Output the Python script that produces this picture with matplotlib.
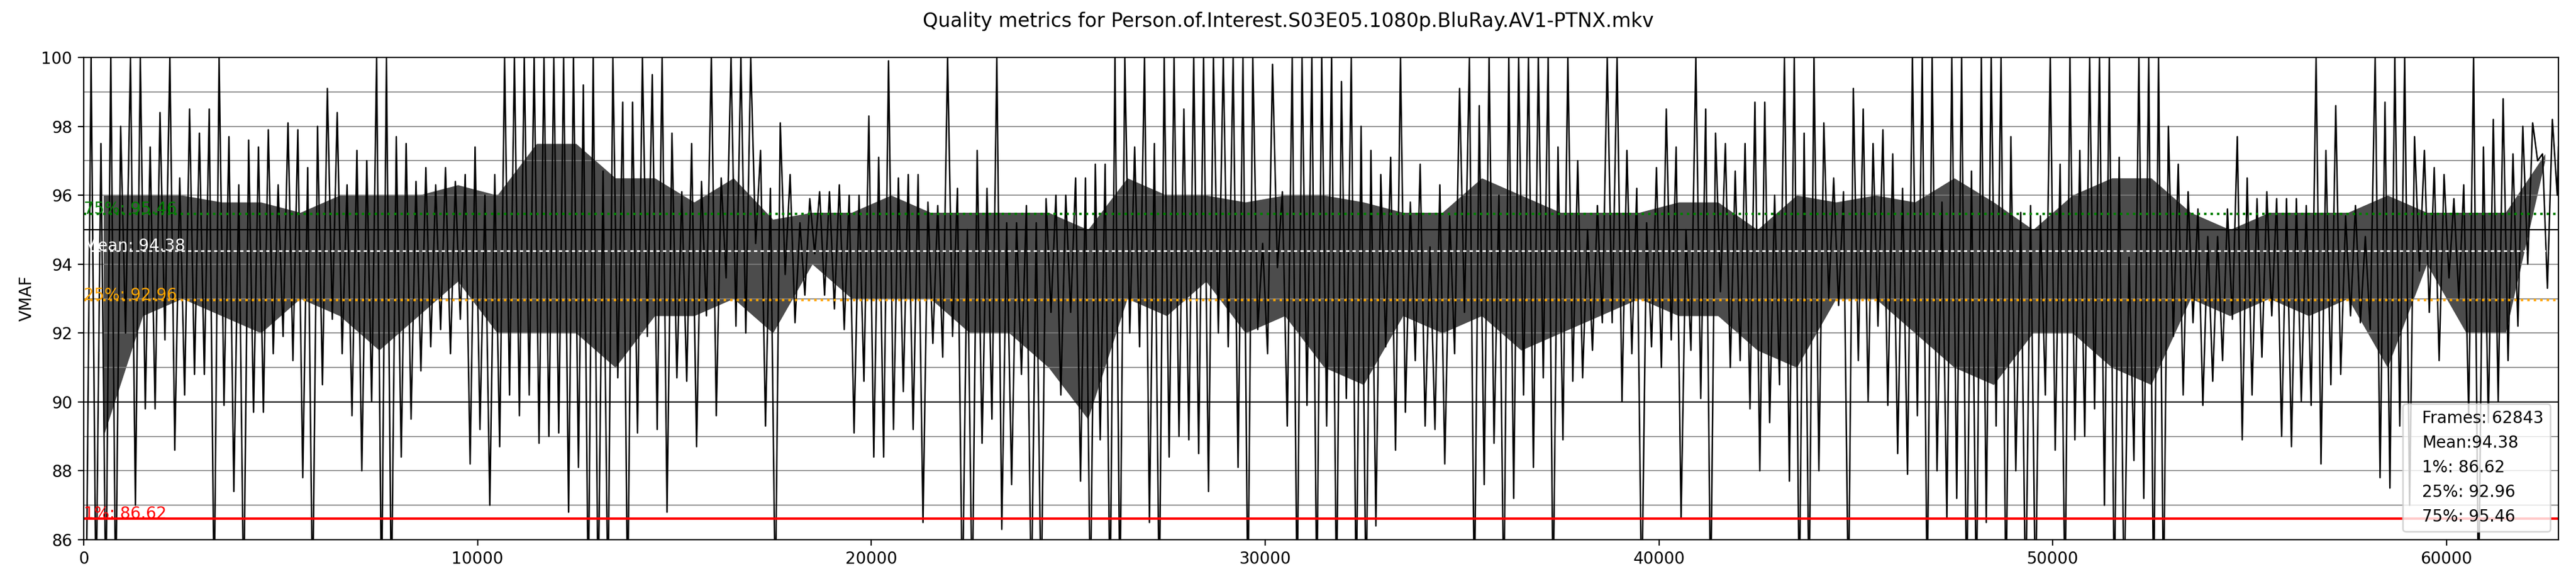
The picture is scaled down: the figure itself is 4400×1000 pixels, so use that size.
import numpy as np
import matplotlib.pyplot as plt

title = "Quality metrics for Person.of.Interest.S03E05.1080p.BluRay.AV1-PTNX.mkv"
frames = 62843
bin_size = 250    # frames per low/high bin
core_size = 1000  # frames per dense-band bin

mean_vmaf = 94.38
p1_vmaf = 86.62
p25_vmaf = 92.96
p75_vmaf = 95.46

# lowest / highest VMAF seen in each 250-frame bin (84 = runs off the bottom)
vmaf_low = [
    # 0 - 7000
    84, 84, 84, 84, 92, 87, 89.8, 89.8, 91.8, 88.6, 90.2, 90.8, 90.8, 84,
    89.9, 87.4, 84, 89.7, 89.7, 91.4, 91.9, 91.2, 87.8, 84, 90.5, 92.4, 91.4, 89.6,
    # 7000 - 14000
    88, 90, 84, 84, 88.4, 89.5, 90.9, 91.6, 92.1, 91.4, 92.4, 88.2, 89.2, 87,
    88.7, 90.2, 89.6, 90.2, 88.8, 89, 89.1, 86.8, 88.1, 84, 84, 84, 90.7, 84,
    # 14000 - 21000
    89.1, 91.9, 89.2, 86.8, 90.7, 90.6, 88.7, 92.5, 89.6, 93.6, 92.2, 92, 94.6, 89.3,
    84, 93.7, 92.3, 93.1, 94.3, 93.1, 92.7, 92.1, 89.1, 90.6, 88.4, 88.4, 89.2, 90.3,
    # 21000 - 28000
    89.2, 86.5, 91.7, 91.3, 91.9, 84, 84, 88.8, 89.5, 86.3, 87.6, 90.8, 84, 84,
    92.6, 90.2, 92.6, 87.7, 84, 88.9, 84, 84, 92, 91.6, 86.5, 84, 88.4, 89,
    # 28000 - 35000
    88.9, 88.5, 87.4, 92, 91.6, 88.1, 84, 92.1, 91.4, 93.9, 89.3, 84, 89.9, 84,
    89.3, 84, 90.1, 84, 84, 86.4, 91.6, 88.6, 89.7, 91.2, 89.3, 89.2, 88.2, 91.4,
    # 35000 - 42000
    92.6, 84, 87.6, 88.8, 84, 87.2, 90.2, 88.1, 90.7, 84, 88.9, 90.6, 90.7, 91.5,
    92.3, 92.3, 90, 91.4, 84, 91.6, 91, 91.8, 86.6, 91.5, 90.1, 84, 93.2, 91,
    # 42000 - 49000
    91.2, 89.8, 88, 89.4, 90.5, 87.7, 84, 84, 88, 93, 92.8, 84, 91.2, 90,
    92.2, 89.9, 88.5, 87.9, 89.6, 84, 88, 86.6, 87.2, 84, 84, 86.5, 89.3, 84,
    # 49000 - 56000
    88, 84, 84, 90.2, 88.6, 84, 88.9, 89, 89.8, 87, 84, 84, 88.3, 87.2,
    84, 84, 91.9, 90.2, 92.3, 89.9, 90.6, 91.2, 92.4, 88.9, 90.2, 91.3, 92.5, 89,
    # 56000 - 62843
    88.7, 90, 89.9, 88.2, 90.5, 90.8, 92.5, 92.3, 92.1, 87.8, 87.5, 89.3, 87, 93.8,
    92.6, 91.2, 93.6, 93, 89.6, 84, 89.4, 90, 91.2, 92.2, 94, 97.0, 93.3, 96,
]

vmaf_high = [
    # 0 - 7000
    100, 97.5, 100, 98, 100, 100, 97.4, 98.4, 100, 96.5, 98.5, 97.8, 98.5, 100,
    97.7, 96.3, 97.6, 97.4, 97.9, 96.3, 98.1, 97.9, 96.8, 98, 99.1, 98.4, 96.3, 97.3,
    # 7000 - 14000
    97, 100, 100, 97.7, 97.5, 96.4, 96.8, 96.3, 96.8, 96.4, 96.6, 97.4, 96, 96.6,
    100, 100, 100, 100, 100, 100, 100, 100, 99.2, 100, 96.7, 100, 98.7, 98.7,
    # 14000 - 21000
    100, 99.5, 100, 97.8, 96.1, 97.5, 96.4, 100, 96.5, 100, 100, 100, 97.3, 96.2,
    98.1, 96.6, 95.2, 95.9, 96.1, 96.1, 96.3, 96, 96, 98.3, 97.1, 99.9, 96.5, 96.6,
    # 21000 - 28000
    96.6, 95.8, 95.7, 100, 96.2, 95, 97.3, 96.2, 100, 95.2, 95.2, 95.7, 95.2, 95.9,
    96, 96, 96.5, 96.5, 96.9, 96.9, 100, 100, 97.4, 100, 97.5, 100, 100, 98.5,
    # 28000 - 35000
    100, 100, 100, 100, 100, 100, 100, 94.6, 99.8, 96.1, 100, 100, 100, 100,
    100, 99.3, 100, 98, 97.3, 96.6, 97.1, 100, 95.8, 96.9, 94.5, 96.3, 95.4, 99.1,
    # 35000 - 42000
    100, 98.6, 100, 96, 100, 100, 100, 100, 100, 97.4, 100, 97, 95, 95.7,
    100, 100, 97.3, 96.2, 95.2, 96.8, 98.5, 97.4, 95, 100, 98.5, 97.8, 97.5, 96.7,
    # 42000 - 49000
    97.5, 98.7, 98.7, 96, 100, 100, 97.8, 100, 98.1, 96.5, 96.1, 99.1, 98.5, 97.5,
    97.9, 97.2, 96.2, 100, 100, 100, 95.8, 100, 100, 96.7, 100, 100, 100, 97.7,
    # 49000 - 56000
    95.5, 95.7, 95.4, 100, 96.9, 100, 97.3, 100, 100, 100, 97.1, 94.2, 100, 100,
    100, 98, 96.9, 96.1, 95.6, 94.8, 94.8, 95.6, 97.7, 96.5, 95.9, 96.1, 95.9, 95.9,
    # 56000 - 62843
    95.9, 95.7, 100, 97.3, 98.6, 95.4, 95.7, 94.8, 100, 98.7, 100, 100, 97.7, 97.3,
    96.8, 96.6, 95.9, 96.3, 100, 97.4, 98.2, 98.8, 97.2, 98, 98.1, 97.2, 98.2, 97.4,
]

# band where the trace is packed thickest, per 1000 frames
core_low = [
    89, 92.5, 93, 92.5, 92, 93, 92.5,
    91.5, 92.5, 93.5, 92, 92, 92, 91,
    92.5, 92.5, 93, 92, 94, 93, 93,
    93, 92, 92, 91, 89.5, 93, 92.5,
    93.5, 92, 92.5, 91, 90.5, 92.5, 92,
    92.5, 91.5, 92, 92.5, 93, 92.5, 92.5,
    91.5, 91, 93, 93, 92, 91, 90.5,
    92, 92, 91, 90.5, 93, 92.5, 93,
    92.5, 93, 91, 94, 92, 92, 97.0,
]
core_high = [
    96, 96, 96, 95.8, 95.8, 95.5, 96,
    96, 96, 96.3, 96, 97.5, 97.5, 96.5,
    96.5, 95.8, 96.5, 95.3, 95.5, 95.5, 96,
    95.5, 95.5, 95.5, 95.5, 95, 96.5, 96,
    96, 95.8, 96, 96, 95.8, 95.5, 95.5,
    96.5, 96, 95.5, 95.5, 95.5, 95.8, 95.8,
    95, 96, 95.8, 96, 95.8, 96.5, 95.8,
    95, 96, 96.5, 96.5, 95.5, 95, 95.5,
    95.5, 95.5, 96, 95.5, 95.5, 95.5, 97.2,
]

legend_lines = [
    f"Frames: {frames}",
    f"Mean:{mean_vmaf:.2f}",
    f"1%: {p1_vmaf:.2f}",
    f"25%: {p25_vmaf:.2f}",
    f"75%: {p75_vmaf:.2f}",
]

# low / high of every bin, one after the other
x = np.arange(2 * len(vmaf_low)) * bin_size / 2 + bin_size / 4
x = np.minimum(x, frames - 1)
y = np.column_stack([vmaf_low, vmaf_high]).ravel()

core_x = np.minimum(np.arange(len(core_low)) * core_size + core_size / 2, frames - 1)

fig, ax = plt.subplots(figsize=(22, 5), dpi=200)

# the packed part of the trace reads as a dark, speckled band
ax.fill_between(core_x, core_low, core_high, color="black", alpha=0.7, linewidth=0)
ax.plot(x, y, color="black", linewidth=0.9)

ax.axhline(90, color="black", linewidth=0.8)
ax.axhline(95, color="black", linewidth=0.8)

ax.axhline(p1_vmaf, color="red", linewidth=1.5)
ax.axhline(p25_vmaf, color="orange", linestyle=":", linewidth=1.5)
ax.axhline(mean_vmaf, color="white", linestyle=(0, (2, 2)), linewidth=1.0)
ax.axhline(p75_vmaf, color="green", linestyle=":", linewidth=1.5)

ax.text(0, p1_vmaf, f"1%: {p1_vmaf:.2f}", color="red")
ax.text(0, p25_vmaf, f"25%: {p25_vmaf:.2f}", color="orange")
ax.text(0, mean_vmaf, f"Mean: {mean_vmaf:.2f}", color="white")
ax.text(0, p75_vmaf, f"75%: {p75_vmaf:.2f}", color="green")

ax.set_xlim(0, frames)
ax.set_ylim(86, 100)
ax.set_yticks(np.arange(86, 101, 2))
ax.set_yticks(np.arange(86, 101, 1), minor=True)
ax.tick_params(axis="y", which="minor", length=0)
ax.grid(axis="y", which="both", color="gray", linewidth=0.6)
ax.set_ylabel("VMAF")

handles = [ax.plot([], [], " ", label=s)[0] for s in legend_lines]
ax.legend(handles=handles, loc="lower right", handlelength=0)

fig.suptitle(title)
fig.subplots_adjust(left=0.0325, right=0.9932, bottom=0.079, top=0.902)
fig.savefig("out.png")
